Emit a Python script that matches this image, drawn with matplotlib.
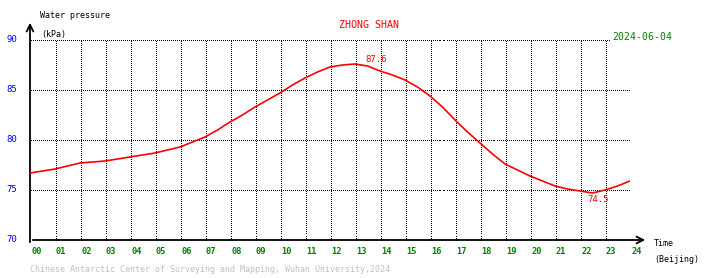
import numpy as np
import matplotlib
matplotlib.use('Agg')
import matplotlib.pyplot as plt
import matplotlib.transforms as mtransforms

# hourly readings (Beijing time)
hours = [0.0, 0.5, 1.0, 1.5, 2.0, 2.5, 3.0, 3.5, 4.0, 4.5, 5.0, 5.5, 6.0, 6.5,
         7.0, 7.5, 8.0, 8.5, 9.0, 9.5, 10.0, 10.5, 11.0, 11.5, 12.0, 12.5,
         13.0, 13.5, 14.0, 14.5, 15.0, 15.5, 16.0, 16.5, 17.0, 17.5, 18.0,
         18.5, 19.0, 19.5, 20.0, 20.5, 21.0, 21.5, 22.0, 22.5, 23.0, 23.5, 24.0]
pressure = [76.7, 76.9, 77.1, 77.4, 77.7, 77.8, 77.9, 78.1, 78.3, 78.5, 78.7,
            79.0, 79.3, 79.8, 80.3, 81.0, 81.8, 82.5, 83.3, 84.0, 84.7, 85.5,
            86.2, 86.8, 87.3, 87.5, 87.6, 87.4, 86.9, 86.5, 86.0, 85.3, 84.4,
            83.3, 82.0, 80.8, 79.7, 78.6, 77.6, 77.0, 76.4, 75.9, 75.4, 75.1,
            74.9, 74.7, 75.0, 75.4, 75.9]
max_label = (13.4, 87.6)
min_label = (22.3, 74.5)
xticks = list(range(25))
xlabels = ['%02d' % h for h in xticks]
yticks = [70, 75, 80, 85, 90]

W, H = 710, 278
mono = 'DejaVu Sans Mono'


def px(x, y):
    return x / W, 1 - y / H


fig = plt.figure(figsize=(W / 100, H / 100), dpi=100)
ax = fig.add_axes([30 / W, 38 / H, 600 / W, 200 / H])
ax.set_xlim(0, 24)
ax.set_ylim(70, 90)
for s in ax.spines.values():
    s.set_visible(False)

# dotted grid drawn as single pixels every 2 px (dashes blur at this size)
half = mtransforms.ScaledTranslation(0.5 / 100, -0.5 / 100, fig.dpi_scale_trans)
gx = np.arange(0, 24.0001, 0.08)
gy = np.arange(70, 90.0001, 0.2)
for v in yticks[1:]:
    ax.plot(gx, np.full_like(gx, v), ls='none', marker=',', color='black',
            transform=ax.transData + half, zorder=1)
for h in xticks[1:]:
    ax.plot(np.full_like(gy, h), gy, ls='none', marker=',', color='black',
            transform=ax.transData + half, zorder=1)

# axes with arrows
ax.annotate('', xy=(0, 1.1), xytext=(0, -0.025), xycoords='axes fraction',
            arrowprops=dict(arrowstyle='->', lw=1.3, color='black',
                            mutation_scale=12), annotation_clip=False)
ax.annotate('', xy=(1.03, 0), xytext=(0, 0), xycoords='axes fraction',
            arrowprops=dict(arrowstyle='->', lw=1.3, color='black',
                            mutation_scale=12), annotation_clip=False)

ax.plot(hours, pressure, color='red', lw=1.2, zorder=3)
ax.text(max_label[0], max_label[1], '%.1f' % max_label[1], color='red',
        fontsize=6.5, family=mono, ha='left', va='bottom', zorder=4)
ax.text(min_label[0], min_label[1], '%.1f' % min_label[1], color='red',
        fontsize=6.5, family=mono, ha='left', va='top', zorder=4)

ax.set_xticks(xticks)
ax.set_xticklabels(xlabels, family=mono, fontsize=6.2, color='green',
                   fontweight='bold')
ax.set_yticks(yticks)
ax.set_yticklabels([str(v) for v in yticks], family=mono, fontsize=6.5,
                   color='blue')
ax.tick_params(axis='both', length=0)
ax.tick_params(axis='x', pad=5)
ax.tick_params(axis='y', pad=9)
for lbl in ax.get_xticklabels():
    lbl.set_ha('left')
    lbl.set_transform(lbl.get_transform() +
                      mtransforms.ScaledTranslation(1 / 100, 0, fig.dpi_scale_trans))
for lbl in ax.get_yticklabels():
    lbl.set_transform(lbl.get_transform() +
                      mtransforms.ScaledTranslation(0, 2 / 100, fig.dpi_scale_trans))

# header / labels
fig.text(*px(40, 16), 'Water pressure', family=mono, fontsize=6, va='center')
fig.text(*px(41, 34), '(kPa)', family=mono, fontsize=6, va='center')
fig.text(*px(339, 25), 'ZHONG SHAN', family=mono, fontsize=7.2, color='red',
         va='center')
fig.text(*px(612, 37), '2024-06-04', family=mono, fontsize=7.1, color='green',
         va='center', bbox=dict(facecolor='white', edgecolor='none', pad=0.5),
         zorder=5)
fig.text(*px(654, 244), 'Time', family=mono, fontsize=6, va='center')
fig.text(*px(654, 260), '(Beijing)', family=mono, fontsize=6, va='center')
fig.text(*px(30, 270), 'Chinese Antarctic Center of Surveying and Mapping, '
         'Wuhan University,2024', family=mono, fontsize=6, color='#c0c0c0',
         va='center')

fig.savefig('out.png', dpi=100)
